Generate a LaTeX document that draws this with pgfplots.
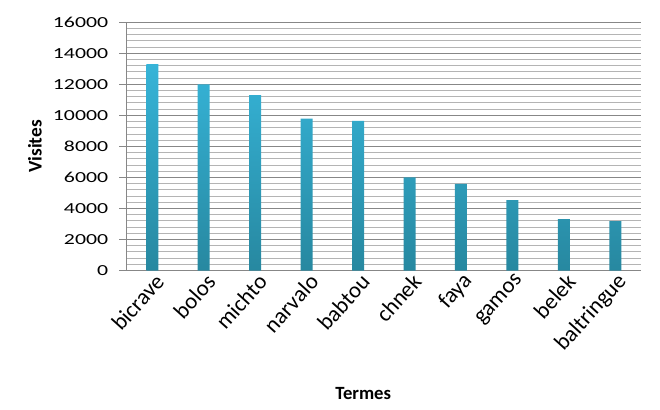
\documentclass[border=0pt]{standalone}
\usepackage{fontspec}
\setmainfont{Carlito}
\usepackage{pgfplots}
\pgfplotsset{compat=1.18}
\definecolor{gridmaj}{HTML}{878787}
\definecolor{gridmin}{HTML}{B4B4B4}
\definecolor{bartop}{HTML}{36B4D8}
\definecolor{barbot}{HTML}{2788A0}
\newcommand\xl[1]{\fontsize{17pt}{19pt}\selectfont #1}
\begin{document}
\begin{tikzpicture}
\useasboundingbox (-94.9pt,-104.6pt) rectangle (400.1pt,202.9pt);
\begin{axis}[
  at={(0,0)}, anchor=south west,
  scale only axis,
  width=385.9pt, height=186.15pt,
  xmin=-0.5, xmax=9.5,
  ymin=0, ymax=16000,
  ytick={0,2000,...,16000},
  minor y tick num=4,
  ymajorgrids, yminorgrids,
  major grid style={gridmaj, line width=0.75pt},
  minor grid style={gridmin, line width=0.75pt},
  axis lines*=left,
  axis line style={gridmaj, line width=0.75pt},
  xtick=data,
  xticklabels={\xl{bicrave},\xl{bolos},\xl{michto},\xl{narvalo},\xl{babtou},\xl{chnek},\xl{faya},\xl{gamos},\xl{belek},\xl{baltringue}},
  x tick style={draw=none},
  ytick style={gridmaj, line width=0.75pt},
  minor tick length=0pt,
  major tick length=5.6pt,
  tick align=outside,
  /pgf/number format/assume math mode=true,
  /pgf/number format/set thousands separator={},
  scaled y ticks=false,
  yticklabel={\scalebox{1.42}[1]{\pgfmathprintnumber{\tick}}},
  yticklabel style={font=\fontsize{11.5pt}{13pt}\selectfont, inner sep=0pt, anchor=east, xshift=-8pt},
  xticklabel style={inner sep=0pt, rotate=48, anchor=east, xshift=4pt, yshift=-4pt},
  xlabel={Termes},
  ylabel={Visites},
  xlabel style={font=\bfseries\fontsize{14pt}{16pt}\selectfont, at={(axis description cs:0.46,-0.4936)}, anchor=center},
  ylabel style={font=\bfseries\fontsize{14.5pt}{16pt}\selectfont, at={(axis description cs:-0.178,0.5)}, anchor=center},
]
\addplot[ybar, bar width=9pt, draw=none, top color=bartop, bottom color=barbot]
  coordinates {(0,13300) (1,12000) (2,11300) (3,9800) (4,9650) (5,6000) (6,5580) (7,4540) (8,3320) (9,3190)};
\end{axis}
\end{tikzpicture}
\end{document}
